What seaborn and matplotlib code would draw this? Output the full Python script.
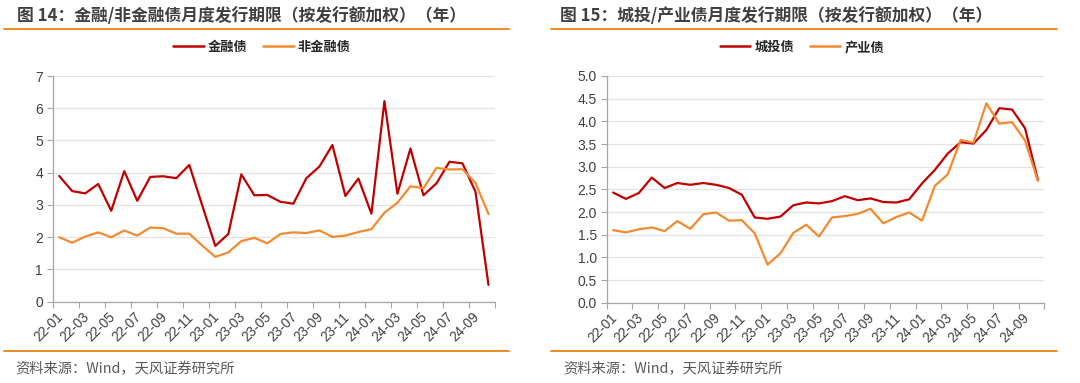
import numpy as np
import pandas as pd
import matplotlib
matplotlib.use("Agg")
import matplotlib.pyplot as plt
import matplotlib.transforms as mtransforms
import seaborn as sns

# ---------------- data ----------------
months = [f"{y:02d}-{m:02d}" for y in (22, 23, 24) for m in range(1, 13)][:34]
tick_labels = months[::2]

fin = [3.90, 3.43, 3.36, 3.65, 2.82, 4.05, 3.13, 3.87, 3.89, 3.83, 4.24, 2.98,
       1.73, 2.10, 3.95, 3.30, 3.31, 3.10, 3.04, 3.83, 4.19, 4.86, 3.28, 3.82,
       2.73, 6.22, 3.35, 4.75, 3.30, 3.67, 4.34, 4.29, 3.41, 0.52]
nonfin = [2.00, 1.83, 2.02, 2.15, 2.00, 2.21, 2.05, 2.30, 2.28, 2.11, 2.11, 1.74,
          1.39, 1.53, 1.88, 1.98, 1.81, 2.10, 2.15, 2.13, 2.21, 2.01, 2.05, 2.16,
          2.25, 2.76, 3.07, 3.58, 3.52, 4.15, 4.10, 4.11, 3.68, 2.72]
chengtou = [2.43, 2.29, 2.42, 2.76, 2.53, 2.64, 2.60, 2.64, 2.60, 2.53, 2.38, 1.88,
            1.85, 1.90, 2.15, 2.21, 2.19, 2.24, 2.35, 2.26, 2.30, 2.22, 2.21, 2.28,
            2.63, 2.93, 3.29, 3.54, 3.51, 3.81, 4.29, 4.26, 3.85, 2.71]
chanye = [1.60, 1.55, 1.62, 1.66, 1.58, 1.80, 1.63, 1.95, 1.99, 1.81, 1.82, 1.53,
          0.84, 1.09, 1.54, 1.72, 1.46, 1.88, 1.91, 1.96, 2.07, 1.75, 1.89, 1.99,
          1.81, 2.58, 2.83, 3.59, 3.53, 4.40, 3.95, 3.98, 3.58, 2.69]

left_names = ["金融债", "非金融债"]
right_names = ["城投债", "产业债"]
titles = ["图 14：金融/非金融债月度发行期限（按发行额加权）（年）",
          "图 15：城投/产业债月度发行期限（按发行额加权）（年）"]
source = "资料来源：Wind，天风证券研究所"

RED = "#C00000"
ORANGE = "#F28A30"
SEP = "#F08A24"

sns.set_theme(style="white")
plt.rcParams["font.family"] = ["Liberation Sans", "Noto Sans CJK SC", "DejaVu Sans"]
CJK = ["Noto Sans CJK SC", "DejaVu Sans"]

W, H = 1080, 383
fig = plt.figure(figsize=(W / 100, H / 100), dpi=100)
fig.patch.set_facecolor("white")


def px_axes(x0, y_top, x1, y_bot):
    return fig.add_axes([x0 / W, 1 - y_bot / H, (x1 - x0) / W, (y_bot - y_top) / H])


def draw_panel(ax, s1, s2, names, ymax, ystep, fmt):
    n = len(months)
    df = pd.DataFrame({
        "idx": list(range(n)) * 2,
        "value": s1 + s2,
        "series": [names[0]] * n + [names[1]] * n,
    })
    sns.lineplot(data=df, x="idx", y="value", hue="series",
                 palette={names[0]: RED, names[1]: ORANGE},
                 linewidth=1.6, ax=ax, legend=False)
    ax.set_xlim(-0.5, n - 0.5)
    ax.set_ylim(0, ymax)
    yt = np.arange(0, ymax + 1e-9, ystep)
    ax.set_yticks(yt)
    ax.set_yticklabels([fmt.format(v) for v in yt], fontsize=10, color="#404040")
    # major ticks at category boundaries, labels at every 2nd category
    ax.set_xticks(np.arange(-0.5, n + 0.5, 2))
    ax.set_xticklabels([])
    ax.set_xticks(np.arange(0, n, 2), minor=True)
    ax.set_xticklabels(tick_labels, minor=True, rotation=45, ha="right",
                       rotation_mode="anchor", fontsize=9.8, color="#404040")
    ax.tick_params(axis="x", which="minor", length=0, pad=6)
    ax.tick_params(axis="x", which="major", length=4, width=0.8, color="#A6A6A6",
                   direction="out", bottom=True)
    ax.tick_params(axis="y", length=4, width=0.8, color="#A6A6A6",
                   direction="out", left=True, pad=3)
    off = mtransforms.ScaledTranslation(-3 / 100, 0, fig.dpi_scale_trans)
    for lbl in ax.get_xticklabels(minor=True):
        lbl.set_transform(lbl.get_transform() + off)
    ax.set_xlabel("")
    ax.set_ylabel("")
    ax.grid(axis="y", color="#E3E3E3", linewidth=0.9)
    ax.set_axisbelow(True)
    for s in ("top", "right"):
        ax.spines[s].set_visible(False)
    for s in ("left", "bottom"):
        ax.spines[s].set_color("#A6A6A6")
        ax.spines[s].set_linewidth(0.9)


axL = px_axes(52.7, 76, 495, 301.7)
draw_panel(axL, fin, nonfin, left_names, 7, 1, "{:.0f}")
axR = px_axes(606.7, 76, 1044.3, 302.7)
draw_panel(axR, chengtou, chanye, right_names, 5, 0.5, "{:.1f}")

# legends
for ax, names, cx in ((axL, left_names, 262), (axR, right_names, 802)):
    handles = [plt.Line2D([], [], color=RED, lw=1.8),
               plt.Line2D([], [], color=ORANGE, lw=1.8)]
    fig.legend(handles, names, loc="center", bbox_to_anchor=(cx / W, 1 - 47 / H),
               ncol=2, frameon=False, handlelength=2.3, handletextpad=0.3,
               columnspacing=1.2, prop={"family": CJK, "size": 9.5, "weight": "bold"},
               labelcolor="#262626")

# titles, separators and sources
for x_text, x0, x1, title, src_x in ((17, 4, 509, titles[0], 15),
                                     (560, 551, 1057, titles[1], 563)):
    fig.text(x_text / W, 1 - 16 / H, title, ha="left", va="center",
             fontsize=12.1, weight="bold", color="#404040", family=CJK)
    fig.add_artist(plt.Line2D([x0 / W, x1 / W], [1 - 29 / H, 1 - 29 / H],
                              color=SEP, lw=1.4, transform=fig.transFigure))
    fig.add_artist(plt.Line2D([x0 / W, x1 / W], [1 - 351 / H, 1 - 351 / H],
                              color=SEP, lw=1.4, transform=fig.transFigure))
    fig.text(src_x / W, 1 - 369 / H, source, ha="left", va="center",
             fontsize=10.3, color="#595959", family=CJK)

fig.savefig("out.png", dpi=100, facecolor="white")
